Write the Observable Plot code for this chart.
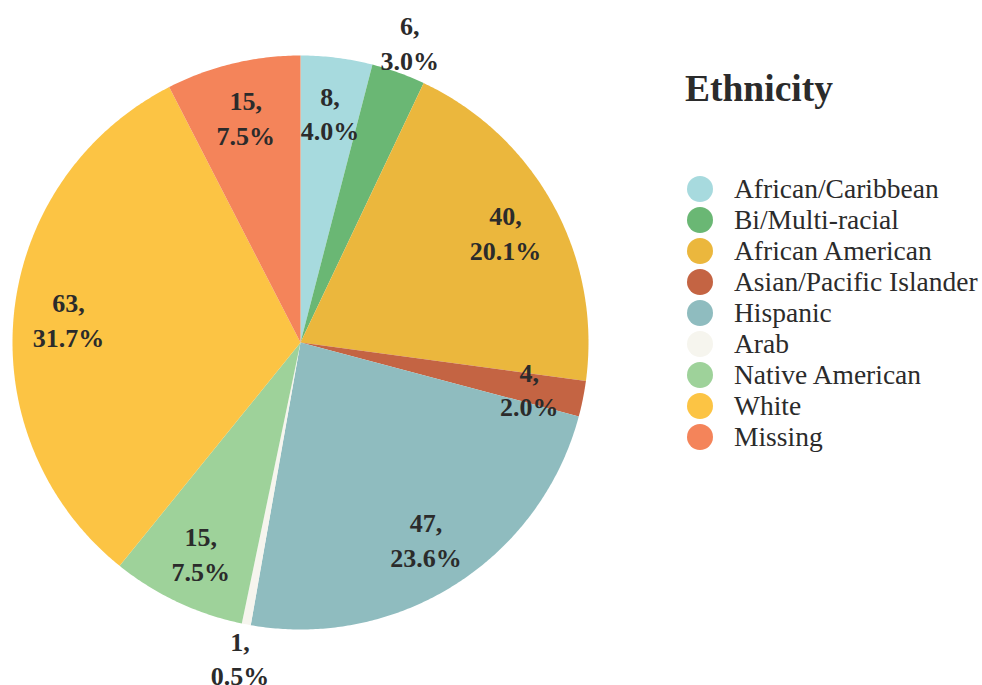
<!DOCTYPE html>
<html>
<head>
<meta charset="utf-8">
<script src="https://cdn.jsdelivr.net/npm/d3@7"></script>
<script src="https://cdn.jsdelivr.net/npm/@observablehq/plot@0.6"></script>
<style>
  body { margin: 0; background: #fff; }
  #wrap { position: relative; width: 982px; height: 685px; font-family: "Liberation Serif", "Times New Roman", serif; }
  #legend { position: absolute; left: 685px; top: 65px; color: #2b2b2b; }
  #legend .title { font-weight: bold; font-size: 37.5px; line-height: 48px; margin-bottom: 60px; }
  #legend .item { display: flex; align-items: center; height: 31px; font-size: 27.5px; white-space: nowrap; }
  #legend .sw { width: 26px; height: 26px; border-radius: 50%; margin-left: 2px; margin-right: 21px; flex: none; }
</style>
</head>
<body>
<div id="wrap"></div>
<script>
const categories = ["African/Caribbean", "Bi/Multi-racial", "African American", "Asian/Pacific Islander", "Hispanic", "Arab", "Native American", "White", "Missing"];
const counts = [8, 6, 40, 4, 47, 1, 15, 63, 15];
const colors = ["#a7dade", "#6ab774", "#ebb73d", "#c46443", "#8fbcbf", "#f6f5ee", "#9ed29a", "#fcc444", "#f4845a"];
const outsideLabels = ["Bi/Multi-racial", "Arab"];
const legendTitle = "Ethnicity";

const total = d3.sum(counts);
const points = [];
const labels = [];
let cum = 0;
categories.forEach((cat, i) => {
  const a0 = cum / total * 2 * Math.PI;
  cum += counts[i];
  const a1 = cum / total * 2 * Math.PI;
  points.push({cat, x: 0, y: 0});
  const n = Math.max(2, Math.ceil((a1 - a0) / (Math.PI / 360)));
  for (let k = 0; k <= n; k++) {
    const a = a0 + (a1 - a0) * k / n;
    points.push({cat, x: Math.sin(a), y: Math.cos(a)});
  }
  const am = (a0 + a1) / 2;
  const r = outsideLabels.includes(cat) ? 1.115 : 0.81;
  const pct = (counts[i] / total * 100).toFixed(1);
  labels.push({cat, x: r * Math.sin(am), y: r * Math.cos(am), text: `${counts[i]},\n${pct}%`});
});

const chart = Plot.plot({
  width: 982,
  height: 685,
  marginLeft: 12,
  marginRight: 394,
  marginTop: 55,
  marginBottom: 56,
  x: {domain: [-1, 1], axis: null},
  y: {domain: [-1, 1], axis: null},
  color: {domain: categories, range: colors},
  style: {background: "white"},
  marks: [
    Plot.line(points, {x: "x", y: "y", z: "cat", fill: "cat", stroke: "none", curve: "linear-closed"}),
    Plot.text(labels, {x: "x", y: "y", text: "text", fontFamily: "Liberation Serif", fontSize: 26, fontWeight: "bold", fill: "#2b2b2b", lineHeight: 1.33, textAnchor: "middle"})
  ]
});
const wrap = document.getElementById("wrap");
wrap.appendChild(chart);

const legend = document.createElement("div");
legend.id = "legend";
const t = document.createElement("div");
t.className = "title";
t.textContent = legendTitle;
legend.appendChild(t);
categories.forEach((cat, i) => {
  const it = document.createElement("div");
  it.className = "item";
  const sw = document.createElement("span");
  sw.className = "sw";
  sw.style.background = colors[i];
  const lb = document.createElement("span");
  lb.textContent = cat;
  it.appendChild(sw);
  it.appendChild(lb);
  legend.appendChild(it);
});
wrap.appendChild(legend);
</script>
</body>
</html>
